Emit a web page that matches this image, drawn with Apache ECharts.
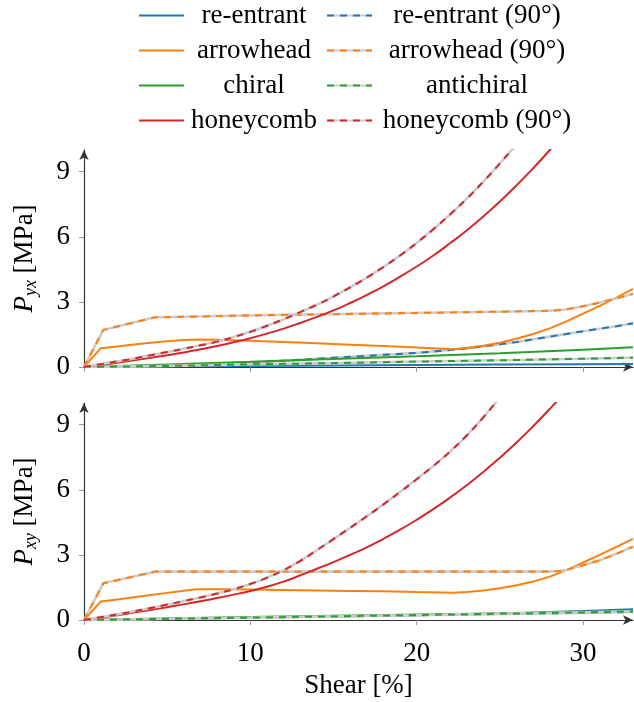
<!DOCTYPE html>
<html>
<head>
<meta charset="utf-8">
<script src="https://cdn.jsdelivr.net/npm/echarts@6/dist/echarts.min.js"></script>
<style>html,body{margin:0;padding:0;background:#fff}#c{width:634px;height:702px}</style>
</head>
<body>
<div id="c"></div>
<script>
// ---- data (shear [%], stress [MPa]) ----
const xTicks = [0, 10, 20, 30];
const yTicks = [0, 3, 6, 9];
const xName = 'Shear [%]';

// Top panel: P_yx
const yx_reentrant = [[0,0],[5,0.03],[10,0.05],[15,0.07],[20,0.09],[25,0.11],[30,0.13],[33,0.14]];
const yx_reentrant90 = [[0,0],[5,0.06],[10,0.2],[12,0.29],[14,0.38],[16,0.47],[18,0.56],[20,0.65],[22,0.78],[24,0.95],[26,1.15],[28,1.4],[30,1.65],[32,1.88],[33,2.02]];
const yx_arrowhead = [[0,0],[1,0.86],[2,0.95],[3,1.04],[4,1.12],[5,1.19],[6,1.24],[7,1.27],[8,1.26],[10,1.21],[12,1.15],[14,1.09],[16,1.03],[18,0.97],[20,0.9],[22.2,0.82],[23,0.88],[24,0.98],[25,1.12],[26,1.3],[27,1.52],[28,1.78],[29,2.1],[30,2.46],[31,2.82],[32,3.2],[33,3.6]];
const yx_arrowhead90 = [[0,0],[1.16,1.71],[4.26,2.29],[11,2.39],[22.5,2.52],[27.5,2.58],[28.4,2.61],[29,2.66],[30,2.8],[31,2.97],[32,3.16],[33,3.37]];
const yx_chiral = [[0,0],[5,0.12],[10,0.24],[15,0.37],[20,0.49],[25,0.63],[30,0.8],[33,0.91]];
const yx_antichiral = [[0,0],[5,0.05],[10,0.12],[15,0.18],[20,0.25],[25,0.31],[30,0.38],[33,0.43]];
const yx_honeycomb = [[0,0],[1,0.1],[2,0.2],[3,0.31],[4,0.42],[5,0.54],[6,0.67],[7,0.82],[8,0.97],[9,1.14],[10,1.33],[11,1.54],[12,1.77],[13,2.03],[14,2.31],[15,2.61],[16,2.95],[17,3.32],[18,3.72],[19,4.16],[20,4.63],[21,5.14],[22,5.7],[23,6.29],[24,6.94],[25,7.63],[26,8.37],[27,9.16],[28,10.0],[29,10.9]];
const yx_honeycomb90 = [[0,0],[1,0.13],[2,0.26],[3,0.39],[4,0.54],[5,0.69],[6,0.84],[7,1.0],[8,1.17],[9,1.38],[10,1.62],[11,1.9],[12,2.2],[13,2.53],[14,2.87],[15,3.25],[16,3.67],[17,4.12],[18,4.61],[19,5.14],[20,5.72],[21,6.35],[22,7.03],[23,7.75],[24,8.54],[25,9.38],[26,10.28],[27,11.24]];

// Bottom panel: P_xy
const xy_reentrant = [[0,0],[10,0.1],[20,0.22],[25,0.3],[30,0.42],[33,0.5]];
const xy_reentrant90 = [[0,0],[10,0.12],[20,0.22],[30,0.33],[33,0.37]];
const xy_arrowhead = [[0,0],[1,0.85],[2,0.95],[3,1.05],[4,1.15],[5,1.25],[6,1.35],[6.8,1.42],[8,1.42],[10,1.4],[12,1.38],[14,1.36],[16,1.34],[18,1.32],[20,1.29],[22.2,1.26],[23,1.29],[24,1.36],[25,1.46],[26,1.6],[27,1.77],[28,2.0],[29,2.3],[30,2.65],[31,3.0],[32,3.37],[33,3.74]];
const xy_arrowhead90 = [[0,0],[1.16,1.69],[4.3,2.23],[28,2.23],[28.6,2.26],[29,2.32],[30,2.52],[31,2.75],[32,3.05],[33,3.38]];
const xy_chiral = [[0,0],[10,0.14],[20,0.25],[30,0.36],[33,0.4]];
const xy_antichiral = [[0,0],[10,0.11],[20,0.23],[30,0.35],[33,0.4]];
const xy_honeycomb = [[0,0],[1,0.11],[2,0.22],[3,0.34],[4,0.46],[5,0.59],[6,0.72],[7,0.86],[8,1.01],[9,1.17],[10,1.34],[11,1.53],[12,1.77],[13,2.06],[14,2.36],[15,2.67],[16,3.0],[17,3.35],[18,3.74],[19,4.16],[20,4.62],[21,5.11],[22,5.64],[23,6.21],[24,6.82],[25,7.48],[26,8.18],[27,8.93],[28,9.73],[29,10.58],[30,11.5]];
const xy_honeycomb90 = [[0,0],[1,0.13],[2,0.26],[3,0.4],[4,0.55],[5,0.71],[6,0.87],[7,1.04],[8,1.22],[9,1.42],[10,1.66],[11,1.95],[12,2.3],[13,2.72],[14,3.22],[15,3.73],[16,4.25],[17,4.78],[18,5.33],[19,5.9],[20,6.49],[21,7.1],[22,7.76],[23,8.5],[24,9.34],[25,10.26],[26,11.24]];

const solidNames = ['re-entrant', 'arrowhead', 'chiral', 'honeycomb'];
const dashedNames = ['re-entrant (90°)', 'arrowhead (90°)', 'antichiral', 'honeycomb (90°)'];
const colors = ['#1f77b4', '#ff7f0e', '#2ca02c', '#d62728'];

// ---- build ----
const FONT = '"Liberation Serif", "DejaVu Serif", serif';
const BG = '\u200b';
const GRAY = '#cccccc';
const series = [];
function addSolid(name, data, color, gi, smooth) {
  series.push({ name, type: 'line', xAxisIndex: gi, yAxisIndex: gi, data, symbol: 'none', showSymbol: false,
    smooth: smooth ? 0.5 : false, clip: true, silent: true, animation: false,
    lineStyle: { color, width: 2 }, itemStyle: { color } });
}
function addDashed(name, data, color, gi, smooth) {
  series.push({ name: name + BG, type: 'line', xAxisIndex: gi, yAxisIndex: gi, data, symbol: 'none', showSymbol: false,
    smooth: smooth ? 0.5 : false, clip: true, silent: true, animation: false,
    lineStyle: { color: GRAY, width: 2.6 }, itemStyle: { color: GRAY } });
  series.push({ name, type: 'line', xAxisIndex: gi, yAxisIndex: gi, data, symbol: 'none', showSymbol: false,
    smooth: smooth ? 0.5 : false, clip: true, silent: true, animation: false,
    lineStyle: { color, width: 2, type: [7, 6] }, itemStyle: { color } });
}
const panels = [
  [yx_reentrant, yx_reentrant90, yx_arrowhead, yx_arrowhead90, yx_chiral, yx_antichiral, yx_honeycomb, yx_honeycomb90],
  [xy_reentrant, xy_reentrant90, xy_arrowhead, xy_arrowhead90, xy_chiral, xy_antichiral, xy_honeycomb, xy_honeycomb90]
];
panels.forEach((p, gi) => {
  for (let k = 0; k < 4; k++) {
    addSolid(solidNames[k], p[2 * k], colors[k], gi, k === 3);
    addDashed(dashedNames[k], p[2 * k + 1], colors[k], gi, k === 3);
  }
});

const axisLineStyle = { color: '#333', width: 1.2 };
function xAxis(gi, showLabels) {
  return {
    type: 'value', gridIndex: gi, min: 0, max: 33,
    splitLine: { show: false },
    axisLine: { show: true, onZero: false, symbol: ['none', 'arrow'], symbolSize: [7, 10], lineStyle: axisLineStyle },
    axisTick: { show: true, length: 5, customValues: xTicks, lineStyle: { color: '#999' } },
    axisLabel: { show: showLabels, customValues: xTicks, margin: 20, fontFamily: FONT, fontSize: 27, color: '#000' },
    name: showLabels ? xName : '', nameLocation: 'middle', nameGap: 52,
    nameTextStyle: { fontFamily: FONT, fontSize: 27, color: '#000' }
  };
}
function yAxis(gi, sub) {
  return {
    type: 'value', gridIndex: gi, min: 0, max: 10,
    splitLine: { show: false },
    axisLine: { show: true, onZero: false, symbol: ['none', 'arrow'], symbolSize: [7, 10], lineStyle: axisLineStyle },
    axisTick: { show: true, length: 5, customValues: yTicks, lineStyle: { color: '#999' } },
    axisLabel: { customValues: yTicks, margin: 14, fontFamily: FONT, fontSize: 27, color: '#000' },
    name: '{i|P}{s|' + sub + '}{n| [MPa]}', nameLocation: 'middle', nameRotate: 90, nameGap: 44,
    nameTextStyle: {
      fontFamily: FONT, fontSize: 27, color: '#000',
      rich: {
        i: { fontFamily: FONT, fontSize: 27, fontStyle: 'italic', lineHeight: 30, color: '#000' },
        s: { fontFamily: FONT, fontSize: 18, fontStyle: 'italic', lineHeight: 14, verticalAlign: 'bottom', color: '#000' },
        n: { fontFamily: FONT, fontSize: 27, lineHeight: 30, color: '#000' }
      }
    }
  };
}

function legend(names, left, width, z, hidden) {
  return {
    data: names, orient: 'vertical', left, top: 2, padding: 0, itemGap: 8,
    itemWidth: 45, itemHeight: 14, selectedMode: false, z,
    itemStyle: { color: 'rgba(0,0,0,0)', borderColor: 'rgba(0,0,0,0)', borderWidth: 0, opacity: 0 },
    formatter: (n) => '{c|' + n.replace(BG, '') + '}',
    textStyle: {
      fontFamily: FONT, fontSize: 27, color: hidden ? 'rgba(0,0,0,0)' : '#000',
      rich: { c: { width, align: 'center', fontFamily: FONT, fontSize: 27, lineHeight: 26,
        color: hidden ? 'rgba(0,0,0,0)' : '#000' } }
    }
  };
}

const option = {
  animation: false,
  backgroundColor: '#fff',
  grid: [
    { left: 84, right: 1, top: 150, height: 217 },
    { left: 84, right: 1, top: 403, height: 217 }
  ],
  xAxis: [xAxis(0, false), xAxis(1, true)],
  yAxis: [yAxis(0, 'yx'), yAxis(1, 'xy')],
  legend: [
    legend(solidNames, 138, 130, 4, false),
    legend(dashedNames.map(n => n + BG), 326, 200, 3, true),
    legend(dashedNames, 326, 200, 4, false)
  ],
  series
};
const chart = echarts.init(document.getElementById('c'), null, { renderer: 'canvas' });
chart.setOption(option);
</script>
</body>
</html>
